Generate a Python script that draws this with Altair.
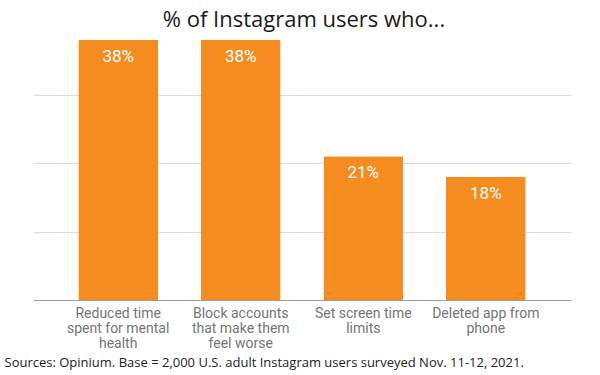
import altair as alt
import pandas as pd

categories = [
    "Reduced time\nspent for mental\nhealth",
    "Block accounts\nthat make them\nfeel worse",
    "Set screen time\nlimits",
    "Deleted app from\nphone",
]
values = [38, 38, 21, 18]
value_labels = ["38%", "38%", "21%", "18%"]

df = pd.DataFrame({"cat": categories, "val": values, "lab": value_labels})

ORANGE = "#F48C1F"

x = alt.X(
    "cat:N",
    sort=categories,
    scale=alt.Scale(paddingInner=0.35, paddingOuter=0.37),
    axis=alt.Axis(
        title="Sources: Opinium. Base = 2,000 U.S. adult Instagram users surveyed Nov. 11-12, 2021.",
        titleAnchor="start",
        titleAlign="left",
        titleX=-29,
        titleY=66,
        titleBaseline="alphabetic",
        titleFont="Open Sans",
        titleFontSize=13,
        titleFontWeight="normal",
        titleColor="#222222",
        labelExpr="split(datum.label, '\\n')",
        labelAngle=0,
        labelFont="Roboto",
        labelFontSize=14,
        labelColor="#757575",
        labelLineHeight=15,
        labelPadding=6,
        labelBaseline="top",
        ticks=False,
        domainColor="#9e9e9e",
        domainWidth=1,
        grid=False,
    ),
)
y = alt.Y(
    "val:Q",
    scale=alt.Scale(domain=[0, 40], nice=False),
    axis=alt.Axis(
        values=[10, 20, 30],
        labels=False,
        ticks=False,
        domain=False,
        title=None,
        grid=True,
        gridColor="#dcdcdc",
        gridWidth=1,
    ),
)

base = alt.Chart(df)
bars = base.mark_bar(color=ORANGE, cornerRadiusTopLeft=1, cornerRadiusTopRight=1).encode(x=x, y=y)
text = base.mark_text(
    baseline="top", dy=9, color="white", font="Roboto", fontSize=17
).encode(x=alt.X("cat:N", sort=categories), y="val:Q", text="lab:N")

chart = (
    alt.layer(bars, text)
    .properties(
        width=538,
        height=274,
        autosize="none",
        padding={"left": 33, "top": 26, "right": 29, "bottom": 75},
        title=alt.TitleParams(
            "% of Instagram users who...",
            anchor="middle",
            font="Open Sans",
            fontSize=22,
            fontWeight="normal",
            color="#1a1a1a",
            offset=-6,
            dx=2,
        ),
    )
    .configure_view(stroke=None)
)

chart.save("out.html", embed_options={"renderer": "svg", "actions": False})
